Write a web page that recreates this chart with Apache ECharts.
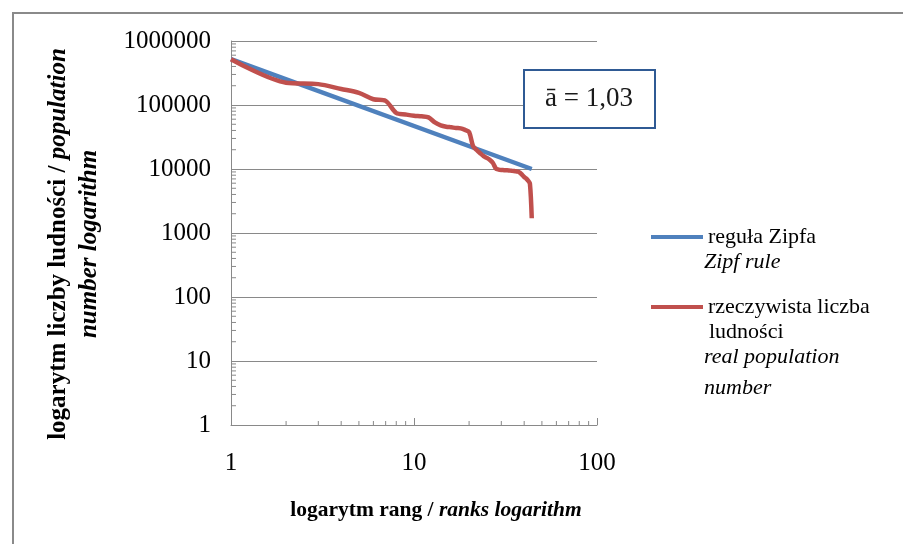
<!DOCTYPE html>
<html><head><meta charset="utf-8">
<script src="https://cdn.jsdelivr.net/npm/echarts@6/dist/echarts.min.js"></script>
<style>html,body{margin:0;padding:0;background:#fff}#c{width:903px;height:544px}</style>
</head><body><div id="c"></div>
<script>
// ---- data ----
const ranks = [1,2,3,4,5,6,7,8,9,10,11,12,13,14,15,16,17,18,19,20,21,22,23,24,25,26,27,28,29,30,31,32,33,34,35,36,37,38,39,40,41,42,43,44];
const realPopulation = [520000,223000,212000,178000,155000,123000,116000,75000,71000,68000,66500,64000,53500,48000,45800,44800,43700,43200,40800,37700,23000,19800,17600,15900,14900,13800,12400,10200,9800,9650,9600,9550,9500,9400,9300,9200,9080,8700,8100,7500,7100,6600,5900,1700];
const zipfRanks = [1,44];
const zipfPopulation = [520000,10000];
const xTickLabels = ['1','10','100'];
const yTickLabels = ['1','10','100','1000','10000','100000','1000000'];
const xMinorTicks = [2,3,4,5,6,7,8,9,20,30,40,50,60,70,80,90];
const yMinorTicks = [2,3,4,5,6,7,8,9,20,30,40,50,60,70,80,90,200,300,400,500,600,700,800,900,2000,3000,4000,5000,6000,7000,8000,9000,20000,30000,40000,50000,60000,70000,80000,90000,200000,300000,400000,500000,600000,700000,800000,900000];
const seriesNames = ['reguła Zipfa','rzeczywista liczba ludności'];
const legendFirstLines = ['reguła Zipfa','rzeczywista liczba'];
const annotationText = 'ā = 1,03';

// ---- chart ----
const FONT = '"Liberation Serif", "Times New Roman", serif';
const AXIS_COLOR = '#898989';
const chart = echarts.init(document.getElementById('c'), null, {renderer:'canvas'});

function labelFor(list, v){
  const s = String(Math.round(v));
  return list.indexOf(s) >= 0 ? s : '';
}

const option = {
  animation: false,
  backgroundColor: '#ffffff',
  grid: {left: 231, right: 306, top: 41, bottom: 119},
  xAxis: {
    type: 'log', logBase: 10, min: 1, max: 100,
    axisLine: {show: true, lineStyle: {color: AXIS_COLOR, width: 1}},
    axisTick: {show: true, inside: true, length: 7, lineStyle: {color: AXIS_COLOR}},
    splitLine: {show: false},
    axisLabel: {margin: 26, fontFamily: FONT, fontSize: 25, color: '#000',
      formatter: v => labelFor(xTickLabels, v)}
  },
  yAxis: {
    type: 'log', logBase: 10, min: 1, max: 1000000,
    axisLine: {show: true, lineStyle: {color: AXIS_COLOR, width: 1}},
    axisTick: {show: true, inside: true, length: 6, lineStyle: {color: AXIS_COLOR}},
    splitLine: {show: true, lineStyle: {color: AXIS_COLOR, width: 1}},
    axisLabel: {margin: 20, fontFamily: FONT, fontSize: 25, color: '#000',
      formatter: v => labelFor(yTickLabels, v)}
  },
  legend: [
    {data: [seriesNames[0]], left: 651, top: 226, orient: 'vertical', padding: 0,
     icon: 'rect', itemWidth: 52, itemHeight: 4, selectedMode: false,
     formatter: () => legendFirstLines[0],
     textStyle: {fontFamily: FONT, fontSize: 22, color: '#000'}},
    {data: [seriesNames[1]], left: 651, top: 296, orient: 'vertical', padding: 0,
     icon: 'rect', itemWidth: 52, itemHeight: 4, selectedMode: false,
     formatter: () => legendFirstLines[1],
     textStyle: {fontFamily: FONT, fontSize: 22, color: '#000'}}
  ],
  series: [
    {
      name: seriesNames[0], type: 'line', symbol: 'none', z: 3,
      data: zipfRanks.map((r, i) => [r, zipfPopulation[i]]),
      lineStyle: {color: '#4F81BD', width: 4.5},
      itemStyle: {color: '#4F81BD'}
    },
    {
      name: seriesNames[1], type: 'line', symbol: 'none', smooth: 0.3, z: 4,
      data: ranks.map((r, i) => [r, realPopulation[i]]),
      lineStyle: {color: '#C0504D', width: 4.5},
      itemStyle: {color: '#C0504D'}
    },
    {
      type: 'custom', silent: true, z: 2,
      data: xMinorTicks.map(v => [v, 1]),
      renderItem: (params, api) => {
        const p = api.coord([api.value(0), api.value(1)]);
        return {type: 'line', shape: {x1: p[0], y1: p[1], x2: p[0], y2: p[1] - 4},
          style: {stroke: AXIS_COLOR, lineWidth: 1}};
      }
    },
    {
      type: 'custom', silent: true, z: 2,
      data: yMinorTicks.map(v => [1, v]),
      renderItem: (params, api) => {
        const p = api.coord([api.value(0), api.value(1)]);
        return {type: 'line', shape: {x1: p[0], y1: p[1], x2: p[0] + 5, y2: p[1]},
          style: {stroke: AXIS_COLOR, lineWidth: 1}};
      }
    }
  ],
  graphic: [
    {type: 'rect', z: -10, silent: true, shape: {x: 13, y: 13, width: 1000, height: 1000},
     style: {fill: null, stroke: '#8a8a8a', lineWidth: 2}},
    {type: 'rect', z: 100, shape: {x: 524, y: 70, width: 131, height: 58},
     style: {fill: '#fff', stroke: '#2F5A94', lineWidth: 2}},
    {type: 'text', z: 101, x: 589, y: 99,
     style: {text: annotationText, font: '27px ' + FONT, fill: '#1a1a1a', align: 'center', verticalAlign: 'middle'}},
    {type: 'text', x: 704, y: 262,
     style: {text: 'Zipf rule', font: 'italic 22px ' + FONT, fill: '#000', align: 'left', verticalAlign: 'middle'}},
    {type: 'text', x: 709, y: 332,
     style: {text: 'ludności', font: '22px ' + FONT, fill: '#000', align: 'left', verticalAlign: 'middle'}},
    {type: 'text', x: 704, y: 357,
     style: {text: 'real population', font: 'italic 22px ' + FONT, fill: '#000', align: 'left', verticalAlign: 'middle'}},
    {type: 'text', x: 704, y: 388,
     style: {text: 'number', font: 'italic 22px ' + FONT, fill: '#000', align: 'left', verticalAlign: 'middle'}},
    {type: 'text', x: 436, y: 510,
     style: {text: '{b|logarytm rang / }{bi|ranks logarithm}', align: 'center', verticalAlign: 'middle',
       rich: {b: {fontFamily: FONT, fontWeight: 'bold', fontSize: 21.5, fill: '#000'},
              bi: {fontFamily: FONT, fontWeight: 'bold', fontStyle: 'italic', fontSize: 21.5, fill: '#000'}}}},
    {type: 'text', x: 74, y: 244, rotation: Math.PI / 2,
     style: {text: '{b|logarytm liczby ludności / }{bi|population}\n{bi|number logarithm}', align: 'center', verticalAlign: 'middle',
       rich: {b: {fontFamily: FONT, fontWeight: 'bold', fontSize: 25, lineHeight: 31, fill: '#000'},
              bi: {fontFamily: FONT, fontWeight: 'bold', fontStyle: 'italic', fontSize: 25, lineHeight: 31, fill: '#000'}}}}
  ]
};
chart.setOption(option);
</script>
</body></html>
